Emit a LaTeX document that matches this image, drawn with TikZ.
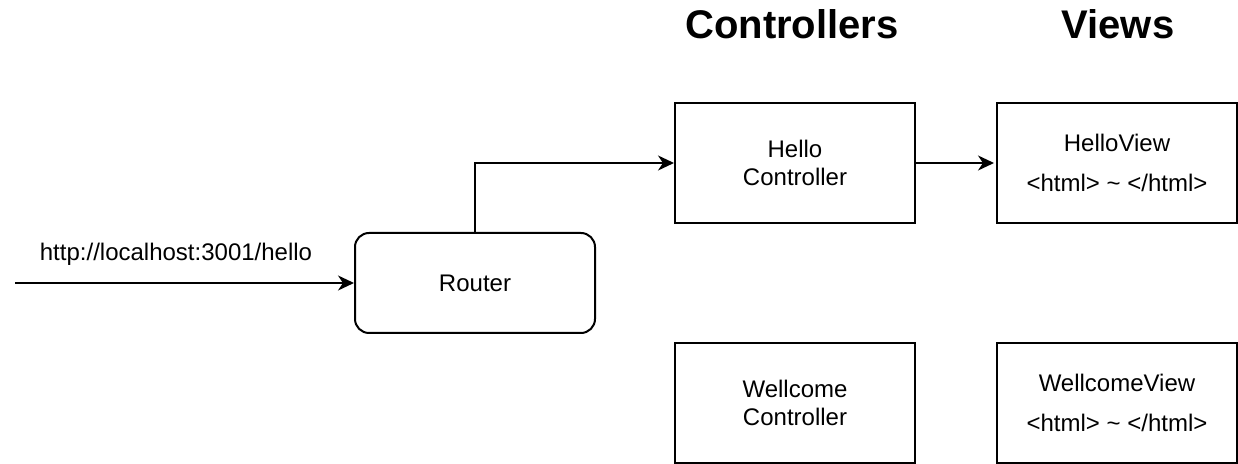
\documentclass[tikz,border=0pt]{standalone}
\usepackage{fontspec}
\setmainfont{Liberation Sans}
\usetikzlibrary{arrows.meta}

\begin{document}
\begin{tikzpicture}[x=0.5pt, y=-0.5pt, line width=1pt, >={Stealth[length=8pt,width=7.5pt,inset=2.5pt]},
      every node/.append style={font=\fontsize{12}{14}\selectfont},
      box/.style={draw,rectangle,minimum width=120pt,minimum height=60pt,align=center,inner sep=0pt},
      head/.style={font=\fontsize{20}{24}\selectfont\bfseries}]
    \tikzstyle{router} = [draw,rectangle,rounded corners=7pt,minimum width=120pt,minimum height=50pt,inner sep=0pt]
    \useasboundingbox (0,0) rectangle (1238,464);
    % column titles
    \node [head] (ctrl_title) at (792,24) {Controllers};
    \node [head] (view_title) at (1118,24) {Views};
    % request and router
    \coordinate (request) at (15,283);
    \node [router] (router) at (475,283) {Router};
    \node (url) at (176,254) {http://localhost:3001/hello};
    % controllers
    \node [box] (hello) at (795,163) {Hello\\Controller};
    \node [box] (wellcome) at (795,403) {Wellcome\\Controller};
    % views
    \node [box] (hello_view) at (1117,163) {HelloView\\[6pt]{<}html{>} \textasciitilde{} {<}/html{>}};
    \node [box] (wellcome_view) at (1117,403) {WellcomeView\\[6pt]{<}html{>} \textasciitilde{} {<}/html{>}};
    \draw [->] (request) -- (router.west);
    \draw [->] (router.north) |- (hello.west);
    \draw [->] (hello.east) -- ([xshift=-1pt]hello_view.west);
\end{tikzpicture}
\end{document}
